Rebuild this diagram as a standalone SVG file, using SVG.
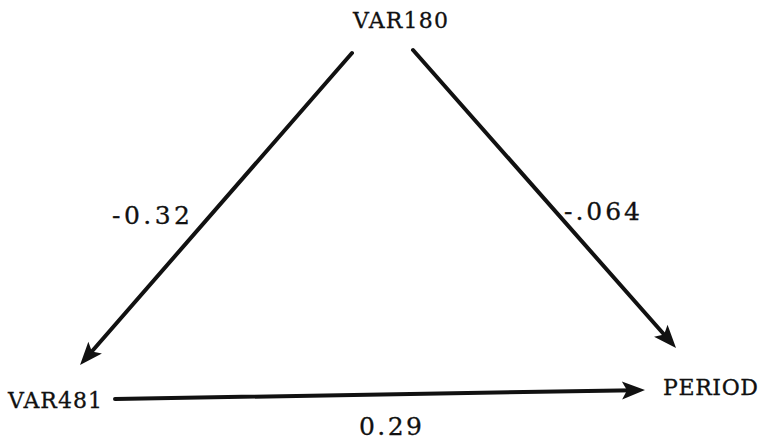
<svg xmlns="http://www.w3.org/2000/svg" width="760" height="444" viewBox="0 0 760 444">
  <style>
    .lbl { font-family: "DejaVu Serif", "Liberation Serif", serif; fill: #111; stroke: #111; stroke-width: 0.3; }
    .node { font-size: 22px; }
    .coef { font-size: 25px; }
    .edge { stroke: #111; stroke-width: 4; fill: none; stroke-linecap: round; }
  </style>
  <defs>
    <marker id="arrow" viewBox="-14 -10 25 20" refX="0" refY="0" markerWidth="25" markerHeight="20" markerUnits="userSpaceOnUse" orient="auto">
      <path d="M10,0 L-13,-9 L-8,0 L-13,9 Z" fill="#111"/>
    </marker>
  </defs>
  <rect width="760" height="444" fill="#fff"/>
  <g id="connectors">
    <path id="e-var180-var481" class="edge" d="M352,53 L86.6,357.5" marker-end="url(#arrow)"/>
    <path id="e-var180-period" class="edge" d="M413,50 L669.4,340.5" marker-end="url(#arrow)"/>
    <path id="e-var481-period" class="edge" d="M115,399 L635,390.2" marker-end="url(#arrow)"/>
    <text class="lbl coef" x="112" y="224" textLength="78" lengthAdjust="spacing">-0.32</text>
    <text class="lbl coef" x="564" y="220" textLength="76" lengthAdjust="spacing">-.064</text>
    <text class="lbl coef" x="359" y="435" textLength="63" lengthAdjust="spacing">0.29</text>
  </g>
  <g id="var180">
    <text class="lbl node" x="353" y="28" textLength="95" lengthAdjust="spacing">VAR180</text>
  </g>
  <g id="var481">
    <text class="lbl node" x="8" y="408" textLength="94" lengthAdjust="spacing">VAR481</text>
  </g>
  <g id="period">
    <text class="lbl node" x="663" y="395" textLength="95" lengthAdjust="spacing">PERIOD</text>
  </g>
</svg>
